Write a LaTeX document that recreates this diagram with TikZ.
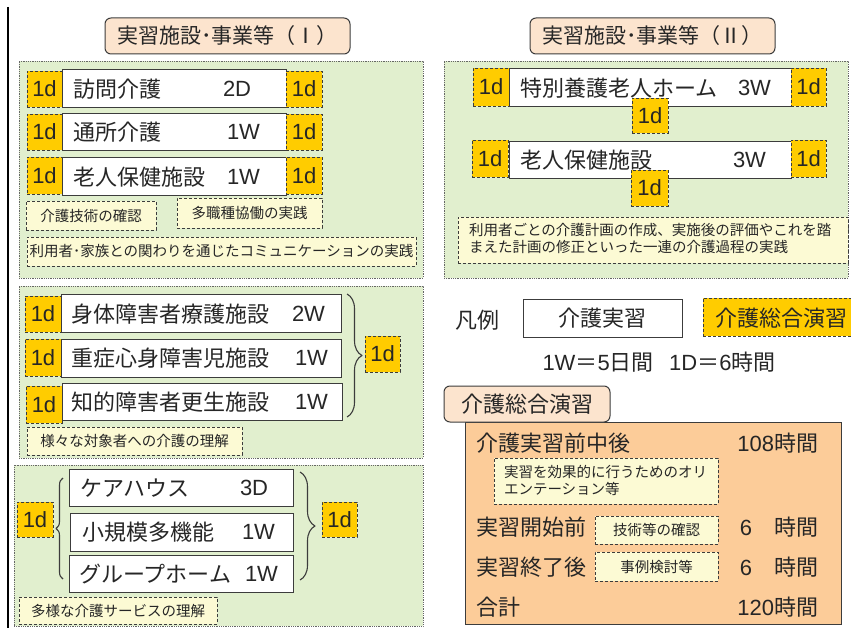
\documentclass[tikz,border=0pt]{standalone}
\usepackage{fontspec}
\setmainfont{Noto Sans CJK JP}
\newfontfamily\lat{Liberation Sans}
\usetikzlibrary{decorations.pathreplacing}
\definecolor{panelgreen}{RGB}{225,239,206}
\definecolor{dgold}{RGB}{255,204,0}
\definecolor{lyellow}{RGB}{252,250,212}
\definecolor{peach}{RGB}{252,228,206}
\definecolor{orangep}{RGB}{252,204,153}
\definecolor{txtc}{RGB}{38,38,38}
\definecolor{edgec}{RGB}{60,60,60}
\newcommand\bigf{\fontsize{22}{26}\selectfont}
\newcommand\titf{\fontsize{21}{25}\selectfont}
\newcommand\smf{\fontsize{14.5}{17.5}\selectfont}
\newcommand\mybox[7]{\node[#1,minimum width={(#4)-(#2)},minimum height={(#5)-(#3)}] (#6) at ({((#2)+(#4))/2},{((#3)+(#5))/2}) {#7};}
\tikzset{
  every node/.style={text=txtc,inner sep=0pt,outer sep=0pt},
  panel/.style={fill=panelgreen,draw=black!60,densely dotted,line width=0.8},
  wbox/.style={fill=white,draw=edgec,line width=0.9},
  dbox/.style={fill=dgold,draw=edgec,dash pattern=on 3pt off 2pt,line width=0.9,font=\bigf\lat},
  ybox/.style={fill=lyellow,draw=edgec,dash pattern=on 3pt off 2pt,line width=0.9,font=\smf},
  titlebox/.style={fill=peach,draw=edgec,rounded corners=6,line width=1,font=\titf},
  txt/.style={font=\bigf},
  ltxt/.style={font=\bigf\lat},
  bracestyle/.style={draw=edgec,line width=1.1,line join=round,decorate},
}
\begin{document}
\begin{tikzpicture}[x=1pt,y=-1pt]
\useasboundingbox (0,0) rectangle (851,628);
% left rule
\coordinate (lt) at (8,7); \coordinate (lb) at (8,628);
\draw[line width=2,black] (lt) -- (lb);
% titles
\node[titlebox,minimum width=245,minimum height=36] (title1) at (227.5,36) {実習施設･事業等（Ⅰ）};
\node[titlebox,minimum width=245,minimum height=36] (title2) at (652.5,36) {実習施設･事業等（Ⅱ）};
% ---------- panel 1
\mybox{panel}{19}{61}{423}{278}{p1}{}
\mybox{wbox}{62}{69}{286}{107}{w11}{}
\mybox{wbox}{62}{113}{286}{150}{w12}{}
\mybox{wbox}{62}{157}{286}{195}{w13}{}
\mybox{dbox}{27}{71}{62}{107}{d11l}{1d}
\mybox{dbox}{27}{114}{62}{150}{d12l}{1d}
\mybox{dbox}{27}{157}{62}{194}{d13l}{1d}
\mybox{dbox}{286}{71}{322}{107}{d11r}{1d}
\mybox{dbox}{286}{114}{322}{150}{d12r}{1d}
\mybox{dbox}{286}{157}{322}{194}{d13r}{1d}
\node[txt,anchor=west] (t11) at (73,89) {訪問介護};
\node[ltxt,anchor=west] (t11b) at (223,89) {2D};
\node[txt,anchor=west] (t12) at (73,132) {通所介護};
\node[ltxt,anchor=west] (t12b) at (227,132) {1W};
\node[txt,anchor=west] (t13) at (73,177) {老人保健施設};
\node[ltxt,anchor=west] (t13b) at (227,177) {1W};
\mybox{ybox}{26}{201}{156}{230}{y11}{介護技術の確認}
\mybox{ybox}{177}{198}{322}{228}{y12}{多職種協働の実践}
\mybox{ybox}{27}{237}{416}{266}{y13}{利用者･家族との関わりを通じたコミュニケーションの実践}
% ---------- panel 2
\mybox{panel}{444}{61}{848}{278}{p2}{}
\mybox{wbox}{509}{68}{791}{106}{w21}{}
\mybox{wbox}{509}{141}{791}{178}{w22}{}
\node[txt,anchor=west] (t21) at (520,88) {特別養護老人ホーム};
\node[ltxt,anchor=west] (t21b) at (738,88) {3W};
\node[txt,anchor=west] (t22) at (520,160) {老人保健施設};
\node[ltxt,anchor=west] (t22b) at (733,160) {3W};
\mybox{dbox}{473}{68}{509}{106}{d21l}{1d}
\mybox{dbox}{791}{68}{826}{106}{d21r}{1d}
\mybox{dbox}{632}{98}{668}{133}{d21m}{1d}
\mybox{dbox}{472}{140}{508}{177}{d22l}{1d}
\mybox{dbox}{791}{140}{826}{177}{d22r}{1d}
\mybox{dbox}{631}{170}{668}{206}{d22m}{1d}
\mybox{ybox}{458}{217}{848}{263}{y21}{}
\node[font=\smf,anchor=north west,align=left] (y21t) at (469,223) {利用者ごとの介護計画の作成、実施後の評価やこれを踏\\まえた計画の修正といった一連の介護過程の実践};
% ---------- panel 3
\mybox{panel}{19}{286}{423}{458}{p3}{}
\mybox{wbox}{61}{294}{341}{332}{w31}{}
\mybox{wbox}{61}{339}{341}{377}{w32}{}
\mybox{wbox}{62}{383}{342}{420}{w33}{}
\mybox{dbox}{25}{296}{61}{332}{d31}{1d}
\mybox{dbox}{25}{339}{61}{376}{d32}{1d}
\mybox{dbox}{26}{386}{62}{423}{d33}{1d}
\node[txt,anchor=west] (t31) at (71,314) {身体障害者療護施設};
\node[ltxt,anchor=west] (t31b) at (292,314) {2W};
\node[txt,anchor=west] (t32) at (71,358) {重症心身障害児施設};
\node[ltxt,anchor=west] (t32b) at (295,358) {1W};
\node[txt,anchor=west] (t33) at (71,402) {知的障害者更生施設};
\node[ltxt,anchor=west] (t33b) at (295,402) {1W};
\coordinate (b3t) at (347,294); \coordinate (b3b) at (347,417);
\draw[bracestyle,decoration={brace,amplitude=15}] (b3t) -- (b3b);
\mybox{dbox}{365}{336}{400}{372}{d3r}{1d}
\mybox{ybox}{27}{427}{242}{455}{y31}{様々な対象者への介護の理解}
% ---------- panel 4
\mybox{panel}{14}{465}{423}{626}{p4}{}
\mybox{wbox}{69}{469}{293}{506}{w41}{}
\mybox{wbox}{70}{513}{293}{551}{w42}{}
\mybox{wbox}{69}{555}{293}{592}{w43}{}
\node[txt,anchor=west] (t41) at (80,488) {ケアハウス};
\node[ltxt,anchor=west] (t41b) at (240,488) {3D};
\node[txt,anchor=west] (t42) at (82,532) {小規模多機能};
\node[ltxt,anchor=west] (t42b) at (242,532) {1W};
\node[txt,anchor=west] (t43) at (79,574) {グループホーム};
\node[ltxt,anchor=west] (t43b) at (245,574) {1W};
\mybox{dbox}{17}{502}{53}{537}{d4l}{1d}
\mybox{dbox}{322}{502}{357}{537}{d4r}{1d}
\coordinate (b4lt) at (63,478); \coordinate (b4lb) at (63,579);
\draw[bracestyle,decoration={brace,amplitude=7}] (b4lb) -- (b4lt);
\coordinate (b4rt) at (300,472); \coordinate (b4rb) at (300,580);
\draw[bracestyle,decoration={brace,amplitude=15}] (b4rt) -- (b4rb);
\mybox{ybox}{19}{597}{217}{624}{y41}{多様な介護サービスの理解}
% ---------- legend
\node[txt,anchor=west] (hanrei) at (455,320) {凡例};
\mybox{wbox,font=\bigf}{523}{299}{682}{337}{legw}{介護実習}
\mybox{dbox}{703}{298}{866}{336}{legd}{}
\node[txt,anchor=west] (legdt) at (715,318) {介護総合演習};
\node[txt] (unit) at (659,362) {{\lat 1W}＝{\lat 5}日間\hspace{0.7em}{\lat 1D}＝{\lat 6}時間};
% ---------- 介護総合演習
\mybox{wbox,fill=orangep}{465}{422}{841}{624}{op}{}
\node[titlebox,minimum width=166,minimum height=36,font=\bigf] (title3) at (527,404) {介護総合演習};
\node[txt,anchor=west] (o1) at (476,443) {介護実習前中後};
\node[txt,anchor=east] (o1b) at (818,443) {{\lat 108}時間};
\mybox{ybox}{494}{458}{718}{504}{oy1}{}
\node[font=\smf,anchor=north west,align=left] (oy1t) at (504,465) {実習を効果的に行うためのオリ\\エンテーション等};
\node[txt,anchor=west] (o2) at (476,527) {実習開始前};
\mybox{ybox}{595}{516}{718}{544}{oy2}{技術等の確認}
\node[txt,anchor=east] (o2b) at (818,527) {{\lat 6}　時間};
\node[txt,anchor=west] (o3) at (476,567) {実習終了後};
\mybox{ybox}{595}{552}{718}{581}{oy3}{事例検討等}
\node[txt,anchor=east] (o3b) at (818,567) {{\lat 6}　時間};
\node[txt,anchor=west] (o4) at (476,607) {合計};
\node[txt,anchor=east] (o4b) at (818,607) {{\lat 120}時間};
\end{tikzpicture}
\end{document}
